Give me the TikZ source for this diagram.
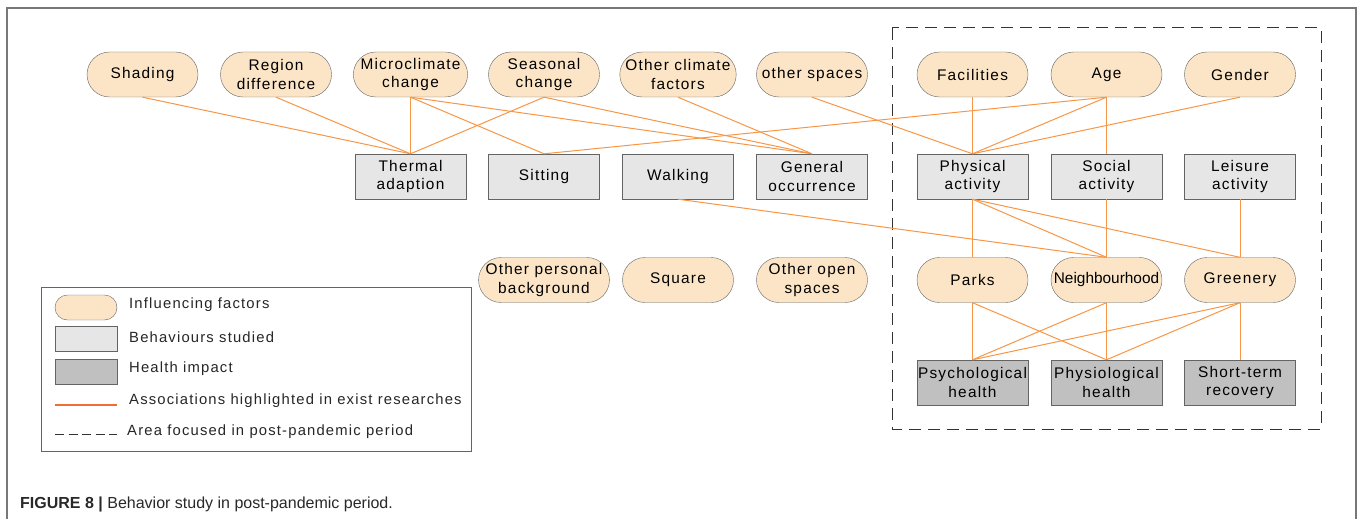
\documentclass[tikz,border=0pt]{standalone}
\usepackage{fontspec}
\setmainfont{Liberation Sans}
\newfontfamily\lsfont[LetterSpace=8]{Liberation Sans}
\usetikzlibrary{shapes.misc}
\definecolor{cPeach}{RGB}{252,229,198}
\definecolor{cLight}{RGB}{230,230,230}
\definecolor{cDark}{RGB}{192,192,192}
\definecolor{cEdge}{RGB}{100,100,100}
\definecolor{cOrange}{RGB}{247,150,70}
\definecolor{cKeyLine}{RGB}{240,110,50}
\definecolor{cFrame}{RGB}{120,120,120}
\definecolor{cCap}{RGB}{40,40,40}
\newcommand{\nodefont}{\lsfont\fontsize{15.4}{18.5}\selectfont}
\newcommand{\plainfont}{\fontsize{15.4}{18.5}\selectfont}
\newcommand{\keyfont}{\lsfont\fontsize{14.8}{17}\selectfont}
\tikzset{
  fac/.style={draw=cEdge, fill=cPeach, rounded rectangle, minimum width=111pt, minimum height=45pt, inner sep=0pt, align=center, font=\nodefont},
  beh/.style={draw=cEdge, fill=cLight, rectangle, minimum width=111pt, minimum height=45pt, inner sep=0pt, align=center, font=\nodefont},
  hlth/.style={beh, fill=cDark},
  assoc/.style={draw=cOrange, line width=1pt},
  focus/.style={draw=black!80, line width=1pt, dash pattern=on 12pt off 7pt},
  lgd/.style={font=\keyfont, anchor=west, inner sep=0pt, text=black!85}
}

\begin{document}
\begin{tikzpicture}[x=1pt,y=-1pt]
  \useasboundingbox (0,0) rectangle (1358,519);
  \draw[cFrame, line width=1.5pt] (7,519) -- (7,8) -- (1356,8) -- (1356,519);
  \draw[focus] (892,28) rectangle (1321,429);
  % influencing factors, top row
  \node[fac] (shading) at (142.5,74.5) {Shading};
  \node[fac] (region) at (276,74.5) {Region\\difference};
  \node[fac] (micro) at (410.5,74.5) {Microclimate\\change};
  \node[fac] (seasonal) at (544,74.5) {Seasonal\\change};
  \node[fac] (otherclim) at (678,74.5) {Other climate\\factors};
  \node[fac] (otherspaces) at (812,74.5) {other spaces};
  \node[fac] (facilities) at (972.5,74.5) {Facilities};
  \node[fac] (age) at (1106.5,74.5) {Age};
  \node[fac] (gender) at (1240,74.5) {Gender};
  % behaviours studied
  \node[beh] (thermal) at (410.5,176.5) {Thermal\\adaption};
  \node[beh] (sitting) at (544,176.5) {Sitting};
  \node[beh] (walking) at (678,176.5) {Walking};
  \node[beh] (general) at (812,176.5) {General\\occurrence};
  \node[beh] (physical) at (972.5,176.5) {Physical\\activity};
  \node[beh] (social) at (1106.5,176.5) {Social\\activity};
  \node[beh] (leisure) at (1240,176.5) {Leisure\\activity};
  % places and background
  \node[fac] (personal) at (544,280) {Other personal\\background};
  \node[fac] (square) at (678,280) {Square};
  \node[fac] (openspaces) at (812,280) {Other open\\spaces};
  \node[fac] (parks) at (972.5,280) {Parks};
  \node[fac, font=\plainfont] (neighbourhood) at (1106.5,280) {Neighbourhood};
  \node[fac] (greenery) at (1240,280) {Greenery};
  % health impact
  \node[hlth] (psych) at (972.5,382.5) {Psychological\\health};
  \node[hlth] (physio) at (1106.5,382.5) {Physiological\\health};
  \node[hlth] (recovery) at (1240,382.5) {Short-term\\recovery};
  % associations
  \foreach \a/\b in {shading/thermal, region/thermal, micro/thermal, micro/sitting, micro/general,
      seasonal/thermal, seasonal/general, otherclim/general, otherspaces/physical,
      facilities/physical, age/sitting, age/physical, age/social, gender/physical,
      walking/neighbourhood, physical/parks, physical/neighbourhood, physical/greenery,
      social/neighbourhood, leisure/greenery, parks/psych, parks/physio,
      neighbourhood/psych, neighbourhood/physio, greenery/psych, greenery/physio, greenery/recovery}
    \draw[assoc] (\a.south) -- (\b.north);
  % legend
  \draw[cEdge, line width=0.8pt] (41,287) rectangle (471,451);
  \node[fac, minimum width=62pt, minimum height=25pt] (keyfac) at (86,307.5) {};
  \node[beh, minimum width=62pt, minimum height=25pt] (keybeh) at (86,338.5) {};
  \node[hlth, minimum width=62pt, minimum height=25pt] (keyhlth) at (86,371.5) {};
  \coordinate (keyassocA) at (55,405);
  \coordinate (keyassocB) at (117,405);
  \draw[cKeyLine, line width=1.2pt] (keyassocA) -- (keyassocB);
  \coordinate (keyfocusA) at (55,434);
  \coordinate (keyfocusB) at (117,434);
  \draw[draw=black!80, line width=0.8pt, dash pattern=on 9pt off 4.5pt] (keyfocusA) -- (keyfocusB);
  \node[lgd] (keyfactxt) at (129,305) {Influencing factors};
  \node[lgd] (keybehtxt) at (129,337) {Behaviours studied};
  \node[lgd] (keyhlthtxt) at (129,369) {Health impact};
  \node[lgd] (keyassoctxt) at (129,401) {Associations highlighted in exist researches};
  \node[lgd] (keyfocustxt) at (127,432) {Area focused in post-pandemic period};
  % caption
  \node[anchor=base west, inner sep=0pt, text=cCap, font=\fontsize{16}{18}\selectfont] (caption) at (20,508)
    {\textbf{FIGURE 8 |} Behavior study in post-pandemic period.};
\end{tikzpicture}
\end{document}
